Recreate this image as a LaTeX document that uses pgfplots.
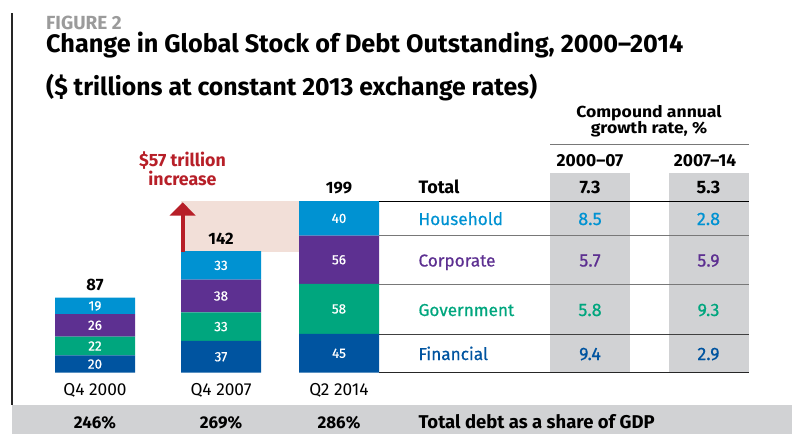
\documentclass[border=0pt]{standalone}
\usepackage{pgfplots}
\pgfplotsset{compat=1.18}
\usepackage{fontspec}
\setmainfont{Fira Sans}
\newfontfamily\med{Fira Sans}[FakeBold=0.6]
\newfontfamily\widebf{Fira Sans}[FakeStretch=1.1,UprightFont=* Bold]
\definecolor{hh}{RGB}{0,146,210}
\definecolor{corp}{RGB}{93,48,145}
\definecolor{gov}{RGB}{0,166,126}
\definecolor{fin}{RGB}{0,84,160}
\definecolor{band}{RGB}{209,210,212}
\definecolor{pinkbg}{RGB}{242,223,216}
\definecolor{arrred}{RGB}{183,31,40}
\definecolor{figgray}{RGB}{155,155,155}
\definecolor{rule}{RGB}{120,120,120}
\tikzset{seg/.style={text=white,font=\med\fontsize{13.5}{13.5}\selectfont,inner sep=0pt}}
\pgfplotsset{frame/.style={at={(0pt,-372.7pt)}, anchor=south west, scale only axis,
  width=792pt, height=172.4pt, xmin=0, xmax=792, ymin=0, ymax=200,
  hide axis, clip=false}}
\begin{document}
\begin{tikzpicture}
\begin{scope}[x=1pt,y=-1pt]
\fill[band] (12,405) rectangle (792,434);
\draw[line width=1.5pt,black!85] (11.75,13) -- (11.75,405);
\fill[band] (550,173) rectangle (630,372);
\fill[band] (669,173) rectangle (749,372);
\fill[pinkbg] (181,201) rectangle (299,251.5);
\end{scope}
\begin{axis}[frame, ybar stacked, bar width=80]
\addplot[fill=fin,draw=none] coordinates {(95,20) (221,37) (339,45)};
\addplot[fill=gov,draw=none] coordinates {(95,22) (221,33) (339,58)};
\addplot[fill=corp,draw=none] coordinates {(95,26) (221,38) (339,56)};
\addplot[fill=hh,draw=none] coordinates {(95,19) (221,33) (339,40)};
\end{axis}
\begin{axis}[frame]
\node[seg] at (axis cs:95,10) {20};
\node[seg] at (axis cs:95,31) {22};
\node[seg] at (axis cs:95,55) {26};
\node[seg] at (axis cs:95,77.5) {19};
\node[seg] at (axis cs:221,18.5) {37};
\node[seg] at (axis cs:221,53.5) {33};
\node[seg] at (axis cs:221,89) {38};
\node[seg] at (axis cs:221,124.5) {33};
\node[seg] at (axis cs:339,22.5) {45};
\node[seg] at (axis cs:339,74) {58};
\node[seg] at (axis cs:339,131) {56};
\node[seg] at (axis cs:339,179) {40};
\end{axis}
\begin{scope}[x=1pt,y=-1pt]
% table rules
\draw[black,line width=1pt] (379,201.5) -- (749,201.5);
\draw[rule,line width=1.2pt] (379,235.7) -- (749,235.7);
\draw[rule,line width=1.2pt] (379,284.8) -- (749,284.8);
\draw[black!75,line width=1.2pt] (379,334.5) -- (749,334.5);
\draw[black!85,line width=1.2pt] (379,372.3) -- (749,372.3);
\draw[rule,line width=1.2pt] (550,144.7) -- (749,144.7);
% arrow
\fill[arrred] (180.7,251.5) rectangle (184.7,215);
\fill[arrred] (169.5,215.7) -- (182.7,202.3) -- (195.7,215.7) -- cycle;
% texts
\begin{scope}[every node/.style={inner sep=0,anchor=base west}]
\node[text=figgray,font=\bfseries\fontsize{19}{19}\selectfont] at (46,29) {FIGURE 2};
\node at (46,52.3) {\resizebox{637pt}{!}{\bfseries Change in Global Stock of Debt Outstanding, 2000--2014}};
\node at (46,95) {\resizebox{491pt}{!}{\bfseries (\$ trillions at constant 2013 exchange rates)}};
\end{scope}
\begin{scope}[every node/.style={inner sep=0,anchor=base}]
\node[font=\bfseries\fontsize{16.5}{16.5}\selectfont] at (95,290.7) {87};
\node[font=\bfseries\fontsize{16.5}{16.5}\selectfont] at (221,244) {142};
\node[font=\bfseries\fontsize{16.5}{16.5}\selectfont] at (339,193.3) {199};
\node[font=\fontsize{17.3}{17.3}\selectfont] at (95,395) {Q4 2000};
\node[font=\fontsize{17.3}{17.3}\selectfont] at (221,395) {Q4 2007};
\node[font=\fontsize{17.3}{17.3}\selectfont] at (339,395) {Q2 2014};
\node[font=\bfseries\fontsize{17}{17}\selectfont] at (95,428) {246\%};
\node[font=\bfseries\fontsize{17}{17}\selectfont] at (221,428) {269\%};
\node[font=\bfseries\fontsize{17}{17}\selectfont] at (339,428) {286\%};
\node[text=arrred,font=\bfseries\fontsize{17.8}{17.8}\selectfont] at (182.5,166) {\$57 trillion};
\node[text=arrred,font=\bfseries\fontsize{17.8}{17.8}\selectfont] at (182.5,185.7) {increase};
\node[font=\widebf\fontsize{16}{16}\selectfont] at (649,117.3) {Compound annual};
\node[font=\widebf\fontsize{16}{16}\selectfont] at (649,133.3) {growth rate, \%};
\node[font=\bfseries\fontsize{17.4}{17.4}\selectfont] at (590,166) {2000--07};
\node[font=\bfseries\fontsize{17.4}{17.4}\selectfont] at (705,166) {2007--14};
\node[font=\bfseries\fontsize{18}{18}\selectfont] at (590,193.3) {7.3};
\node[font=\bfseries\fontsize{18}{18}\selectfont] at (708.5,193.3) {5.3};
\node[text=hh,font=\med\fontsize{18}{18}\selectfont] at (590,225) {8.5};
\node[text=hh,font=\med\fontsize{18}{18}\selectfont] at (708.5,225) {2.8};
\node[text=corp,font=\med\fontsize{18}{18}\selectfont] at (590,266.5) {5.7};
\node[text=corp,font=\med\fontsize{18}{18}\selectfont] at (708.5,266.5) {5.9};
\node[text=gov,font=\med\fontsize{18}{18}\selectfont] at (590,316) {5.8};
\node[text=gov,font=\med\fontsize{18}{18}\selectfont] at (708.5,316) {9.3};
\node[text=fin,font=\med\fontsize{18}{18}\selectfont] at (590,360) {9.4};
\node[text=fin,font=\med\fontsize{18}{18}\selectfont] at (708.5,360) {2.9};
\end{scope}
\begin{scope}[every node/.style={inner sep=0,anchor=base west}]
\node[font=\bfseries\fontsize{18}{18}\selectfont] at (418.3,193.3) {Total};
\node[text=hh,font=\med\fontsize{17.2}{17.2}\selectfont] at (418.3,225) {Household};
\node[text=corp,font=\med\fontsize{17.2}{17.2}\selectfont] at (418.3,266.5) {Corporate};
\node[text=gov,font=\med\fontsize{17.2}{17.2}\selectfont] at (418.3,316) {Government};
\node[text=fin,font=\med\fontsize{17.2}{17.2}\selectfont] at (418.3,360) {Financial};
\node[font=\bfseries\fontsize{18.5}{18.5}\selectfont] at (418.3,428) {Total debt as a share of GDP};
\end{scope}
\end{scope}
\pgfresetboundingbox
\path[use as bounding box] (0pt,0pt) rectangle (792pt,-434pt);
\end{tikzpicture}
\end{document}
